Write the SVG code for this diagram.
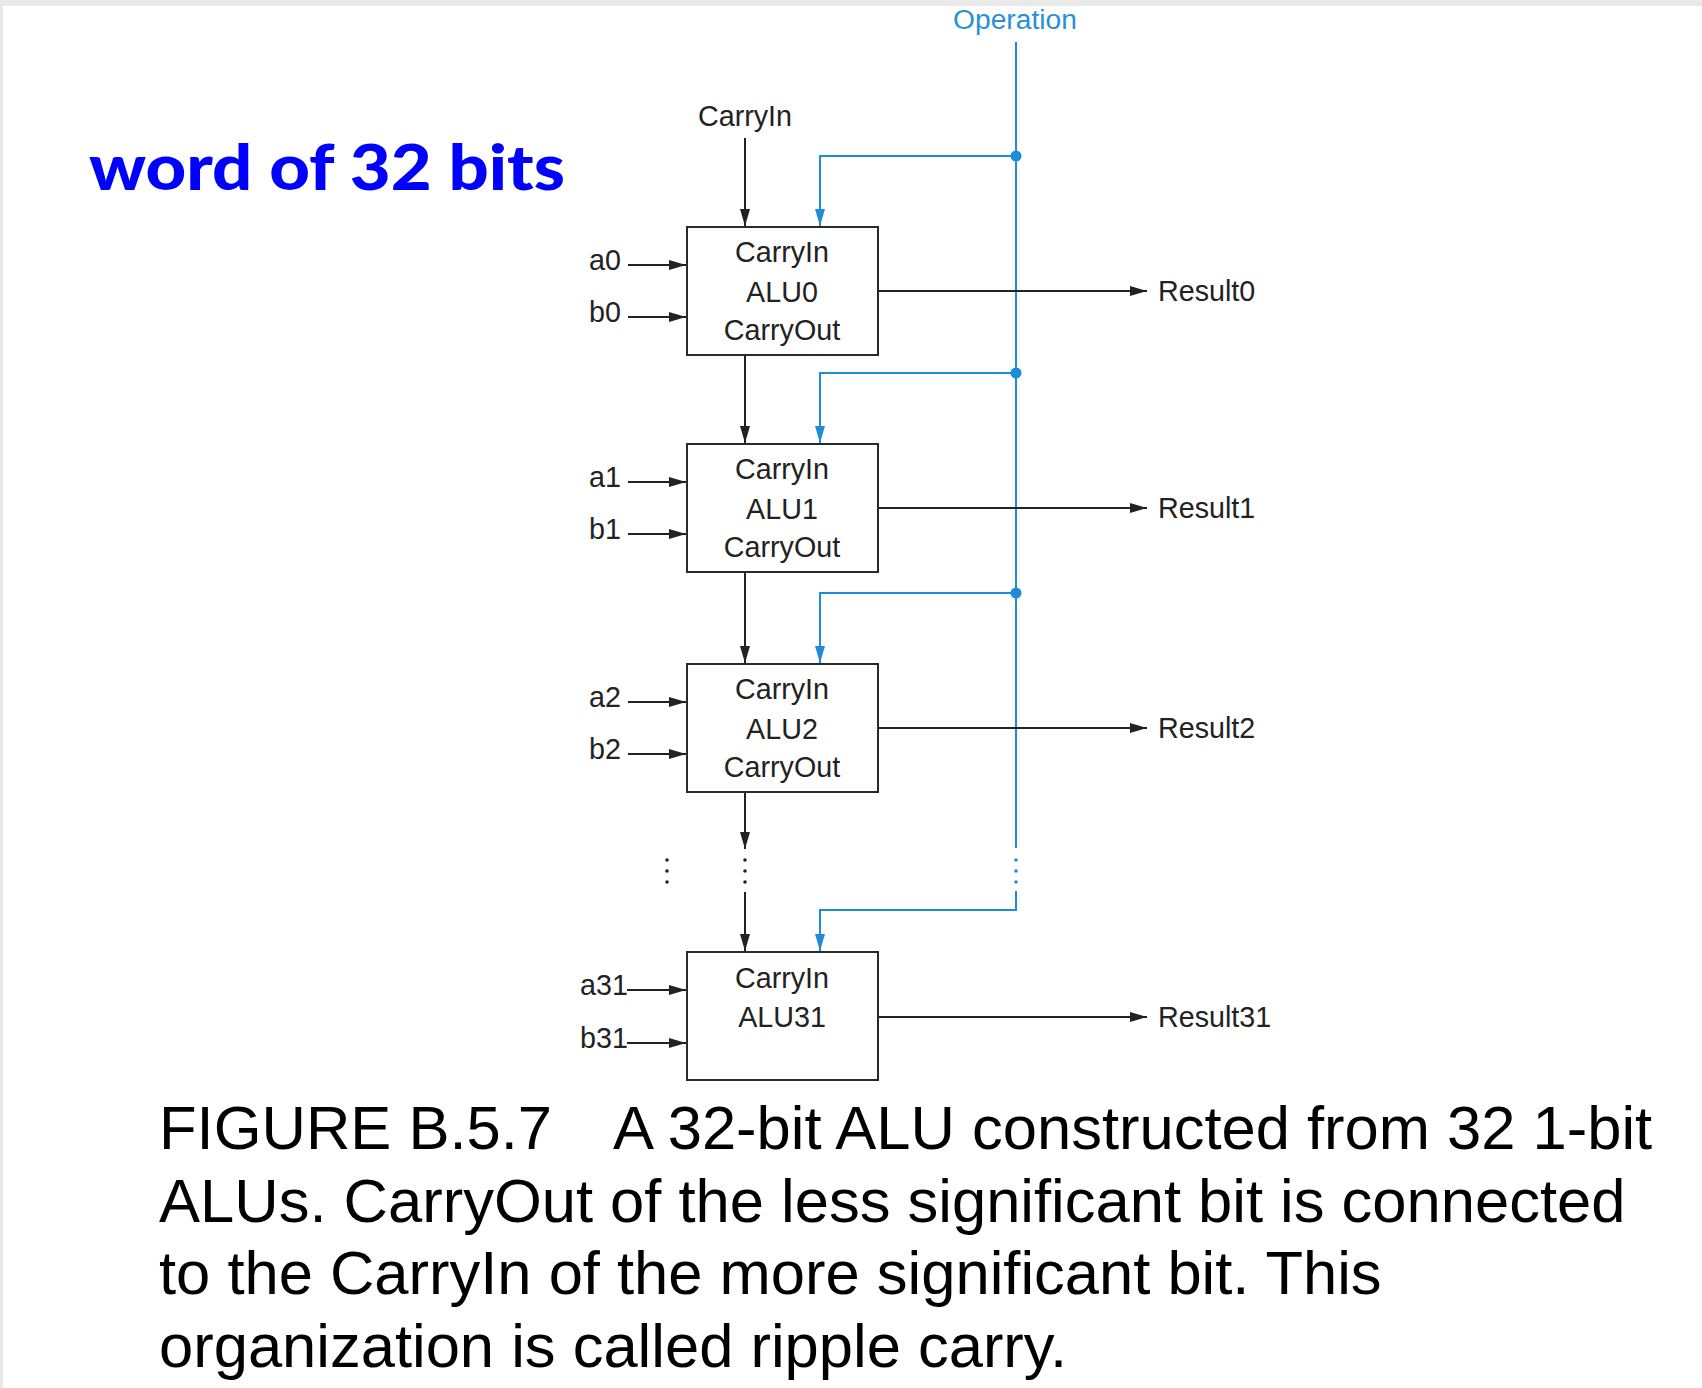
<svg xmlns="http://www.w3.org/2000/svg" width="1702" height="1388" viewBox="0 0 1702 1388">
<defs>
<style>
.t{font-family:"Liberation Sans",Arial,Helvetica,sans-serif;font-size:28.7px;fill:#222}
.c{text-anchor:middle}
.op{font-family:"Liberation Sans",Arial,Helvetica,sans-serif;font-size:28.2px;fill:#2a8fd6;text-anchor:middle}
.box{fill:#fff;stroke:#2a2a2a;stroke-width:2}
.w{fill:none;stroke:#222;stroke-width:2}
.bl{fill:none;stroke:#1f8dd6;stroke-width:2}
.cap{font-family:"Liberation Sans",Arial,Helvetica,sans-serif;font-size:61.5px;fill:#000}
.title{font-family:Lato,"Open Sans",sans-serif;font-weight:900;font-size:62px;fill:#0000ff}
</style>
<marker id="ak" markerUnits="userSpaceOnUse" markerWidth="18" markerHeight="11" refX="17" refY="5" orient="auto">
<path d="M0,0 L17,5 L0,10 z" fill="#222"/>
</marker>
<marker id="ab" markerUnits="userSpaceOnUse" markerWidth="18" markerHeight="11" refX="17" refY="5" orient="auto">
<path d="M0,0 L17,5 L0,10 z" fill="#1f8dd6"/>
</marker>
</defs>
<rect x="0" y="0" width="1702" height="1388" fill="#e9e9e9"/>
<rect x="3" y="6" width="1699" height="1382" fill="#fff"/>

<text class="title" x="89" y="190" textLength="476" lengthAdjust="spacingAndGlyphs">word of 32 bits</text>

<g id="connectors">
<path class="bl" d="M1016,42 V848"/>
<path class="bl" d="M1016,891 V910 H820 V951" marker-end="url(#ab)"/>
<path class="bl" d="M1016,156 H820 V226" marker-end="url(#ab)"/>
<path class="bl" d="M1016,373 H820 V443" marker-end="url(#ab)"/>
<path class="bl" d="M1016,593 H820 V663" marker-end="url(#ab)"/>
<g fill="#1f8dd6">
<circle cx="1016" cy="156" r="5.5"/>
<circle cx="1016" cy="373" r="5.5"/>
<circle cx="1016" cy="593" r="5.5"/>
<circle cx="1016" cy="860" r="1.8"/>
<circle cx="1016" cy="871" r="1.8"/>
<circle cx="1016" cy="882" r="1.8"/>
</g>
<path class="w" d="M745,138 V226" marker-end="url(#ak)"/>
<path class="w" d="M745,355 V443" marker-end="url(#ak)"/>
<path class="w" d="M745,572 V663" marker-end="url(#ak)"/>
<path class="w" d="M745,792 V849" marker-end="url(#ak)"/>
<path class="w" d="M745,892 V951" marker-end="url(#ak)"/>
<g fill="#222">
<circle cx="745" cy="860" r="1.8"/>
<circle cx="745" cy="871" r="1.8"/>
<circle cx="745" cy="882" r="1.8"/>
<circle cx="667" cy="860" r="1.8"/>
<circle cx="667" cy="871" r="1.8"/>
<circle cx="667" cy="882" r="1.8"/>
</g>
<path class="w" d="M628,265 H686" marker-end="url(#ak)"/>
<path class="w" d="M628,317 H686" marker-end="url(#ak)"/>
<path class="w" d="M628,482 H686" marker-end="url(#ak)"/>
<path class="w" d="M628,534 H686" marker-end="url(#ak)"/>
<path class="w" d="M628,702 H686" marker-end="url(#ak)"/>
<path class="w" d="M628,754 H686" marker-end="url(#ak)"/>
<path class="w" d="M627,990 H686" marker-end="url(#ak)"/>
<path class="w" d="M627,1043 H686" marker-end="url(#ak)"/>
<path class="w" d="M878,291 H1147" marker-end="url(#ak)"/>
<path class="w" d="M878,508 H1147" marker-end="url(#ak)"/>
<path class="w" d="M878,728 H1147" marker-end="url(#ak)"/>
<path class="w" d="M878,1017 H1147" marker-end="url(#ak)"/>
</g>

<g id="labels">
<text class="op" x="1015" y="29">Operation</text>
<text class="t c" x="745" y="126">CarryIn</text>
<text class="t" x="589" y="270">a0</text>
<text class="t" x="589" y="322">b0</text>
<text class="t" x="589" y="487">a1</text>
<text class="t" x="589" y="539">b1</text>
<text class="t" x="589" y="707">a2</text>
<text class="t" x="589" y="759">b2</text>
<text class="t" x="580" y="995">a31</text>
<text class="t" x="580" y="1048">b31</text>
<text class="t" x="1158" y="301">Result0</text>
<text class="t" x="1158" y="518">Result1</text>
<text class="t" x="1158" y="738">Result2</text>
<text class="t" x="1158" y="1027">Result31</text>
</g>

<g id="alu0">
<rect class="box" x="687" y="227" width="191" height="128"/>
<text class="t c" x="782" y="262">CarryIn</text>
<text class="t c" x="782" y="302">ALU0</text>
<text class="t c" x="782" y="340">CarryOut</text>
</g>
<g id="alu1">
<rect class="box" x="687" y="444" width="191" height="128"/>
<text class="t c" x="782" y="479">CarryIn</text>
<text class="t c" x="782" y="519">ALU1</text>
<text class="t c" x="782" y="557">CarryOut</text>
</g>
<g id="alu2">
<rect class="box" x="687" y="664" width="191" height="128"/>
<text class="t c" x="782" y="699">CarryIn</text>
<text class="t c" x="782" y="739">ALU2</text>
<text class="t c" x="782" y="777">CarryOut</text>
</g>
<g id="alu31">
<rect class="box" x="687" y="952" width="191" height="128"/>
<text class="t c" x="782" y="988">CarryIn</text>
<text class="t c" x="782" y="1027">ALU31</text>
</g>

<g id="caption">
<text class="cap" x="159" y="1149">FIGURE B.5.7</text>
<text class="cap" x="613" y="1149">A 32-bit ALU constructed from 32 1-bit</text>
<text class="cap" x="159" y="1222">ALUs. CarryOut of the less significant bit is connected</text>
<text class="cap" x="159" y="1294">to the CarryIn of the more significant bit. This</text>
<text class="cap" x="159" y="1367">organization is called ripple carry.</text>
</g>
</svg>
